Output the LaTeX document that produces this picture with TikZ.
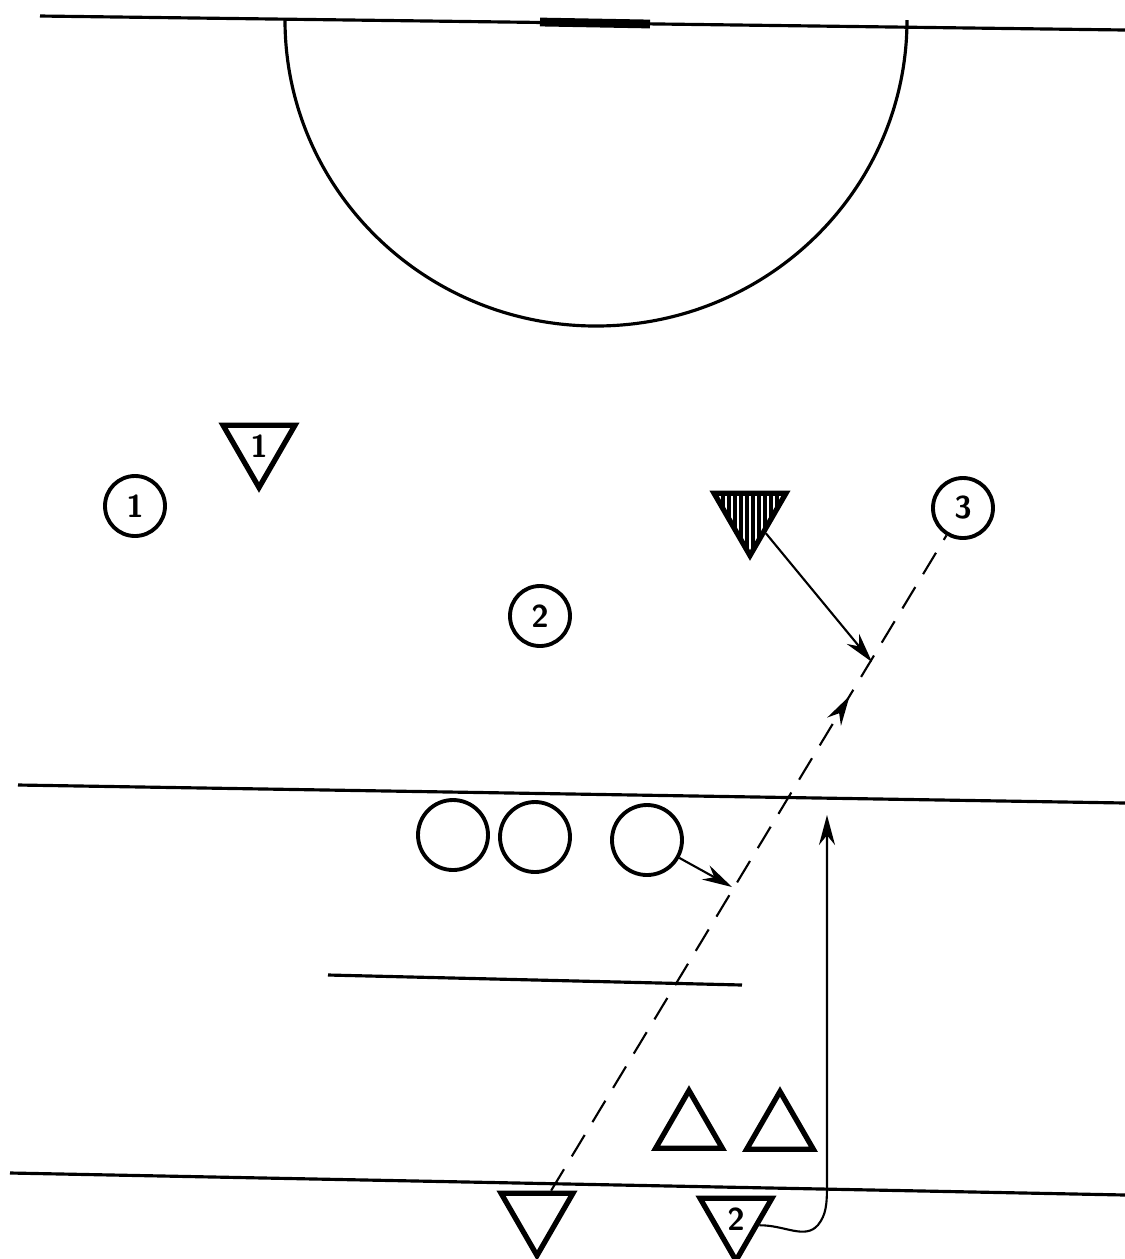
\documentclass[tikz,border=0pt]{standalone}
\usetikzlibrary{shapes.geometric,arrows.meta,decorations.markings}
\tikzset{
  attacker/.style={circle, draw, line width=1.1pt, minimum size=6mm, inner sep=0pt, font=\small\sffamily\bfseries},
  ring/.style={circle, draw, line width=1.1pt, minimum size=7mm, inner sep=0pt},
  defender/.style={regular polygon, regular polygon sides=3, shape border rotate=180, draw, line width=1.5pt, minimum size=8.3mm, inner sep=0pt, font=\small\sffamily\bfseries},
  hatched/.style={path picture={
      \foreach \i in {-45,-39,...,45}
        \draw[line width=0.9pt] ([xshift=\i*0.1mm]path picture bounding box.north) -- ++(0,-10mm);}},
  cone/.style={regular polygon, regular polygon sides=3, draw, line width=1.5pt, minimum size=7.7mm, inner sep=0pt},
  fieldline/.style={line width=0.9pt},
  move/.style={-{Stealth[length=3mm,width=1.6mm]}, line width=0.6pt},
}
\begin{document}
\begin{tikzpicture}[x=0.1mm, y=-0.1mm]
    \useasboundingbox (0,0) rectangle (1125,1259);
    % field markings
    \draw[fieldline] (40,16) -- (1125,30);
    \draw[line width=2.5pt] (540,22) -- (650,24);
    \draw[fieldline] (285,20) arc[start angle=180, end angle=0, x radius=311, y radius=306];
    \draw[fieldline] (18,785) -- (1125,803);
    \draw[fieldline] (328,975) -- (742,985);
    \draw[fieldline] (10,1173) -- (1125,1195);
    % players
    \node[defender] (d1) at (259,446) {1};
    \node[attacker] (a1) at (135,506) {1};
    \node[defender, hatched] (dh) at (750,514) {};
    \node[attacker] (a3) at (963,508) {3};
    \node[attacker] (a2) at (540,616) {2};
    \node[ring] (r1) at (453,835) {};
    \node[ring] (r2) at (535,837) {};
    \node[ring] (r3) at (647,840) {};
    \node[cone] (t1) at (689,1129) {};
    \node[cone] (t2) at (780,1130) {};
    \node[defender] (ball) at (537,1214) {};
    \node[defender] (d2) at (736,1219) {2};
    % moves
    \coordinate (hit1) at (872,662);
    \coordinate (hit2) at (732,887);
    \coordinate (runend) at (827,815);
    \draw[dashed, dash pattern=on 2.5mm off 1.5mm, line width=0.6pt, postaction={decorate},
        decoration={markings, mark=at position 0.755 with {\arrow{Stealth[length=3mm,width=1.6mm]}}}]
        (ball) -- (a3);
    \draw[move] (dh) -- (hit1);
    \draw[move] (r3) -- (hit2);
    \draw[move] (d2.-15) .. controls (785,1225) and (805,1240) .. (818,1225)
        .. controls (826,1215) and (827,1205) .. (827,1185) -- (runend);
\end{tikzpicture}
\end{document}
